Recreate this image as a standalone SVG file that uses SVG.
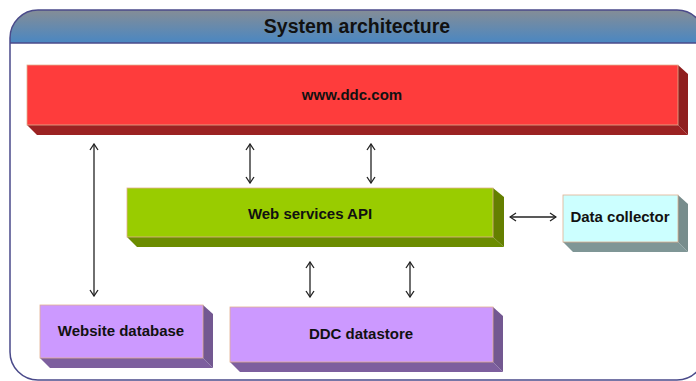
<svg xmlns="http://www.w3.org/2000/svg" width="696" height="381" viewBox="0 0 696 381">
<defs>
<linearGradient id="hdr" x1="0" y1="0" x2="0" y2="1">
<stop offset="0" stop-color="#858d96"/>
<stop offset="1" stop-color="#4a87c2"/>
</linearGradient>
<clipPath id="frameClip"><rect x="10" y="10" width="695" height="371" rx="28" ry="28"/></clipPath>
<marker id="ah" viewBox="0 0 10 10" refX="9" refY="5" markerWidth="10" markerHeight="10" markerUnits="userSpaceOnUse" orient="auto-start-reverse">
<path d="M3,1 L9,5 L3,9" fill="none" stroke="#222" stroke-width="1.3"/>
</marker>
</defs>
<style>
.lbl{font-family:"Liberation Sans",Arial,sans-serif;font-weight:bold;font-size:15px;fill:#111;text-anchor:middle}
.front{stroke:#e0b090;stroke-width:0.8}
.conn{stroke:#222;stroke-width:1.3;fill:none;marker-start:url(#ah);marker-end:url(#ah)}
</style>
<rect width="696" height="381" fill="#ffffff"/>
<g id="frame">
<rect x="10" y="10" width="695" height="371" rx="28" ry="28" fill="#ffffff"/>
<rect x="10" y="10" width="695" height="33" fill="url(#hdr)" clip-path="url(#frameClip)"/>
<line x1="10" y1="43" x2="696" y2="43" stroke="#4a4a8a" stroke-width="1.3"/>
<rect x="10" y="10" width="695" height="370" rx="28" ry="28" fill="none" stroke="#4a4a8a" stroke-width="1.5"/>
<text x="357" y="33" font-family="'Liberation Sans',Arial,sans-serif" font-weight="bold" font-size="19.5" fill="#111" text-anchor="middle">System architecture</text>
</g>
<g id="www">
<polygon points="27,125 678,125 688,135 37,135" fill="#9b2222"/>
<polygon points="678,65 688,74 688,135 678,125" fill="#8f1f1f"/>
<rect class="front" x="27" y="65" width="651" height="60" fill="#fe3c3c"/>
<text class="lbl" x="352" y="100">www.ddc.com</text>
</g>
<g id="api">
<polygon points="127,237 493,237 504,247 137,247" fill="#6b8c00"/>
<polygon points="493,188 504,197 504,247 493,237" fill="#647f00"/>
<rect class="front" x="127" y="188" width="366" height="49" fill="#99cc00"/>
<text class="lbl" x="310" y="219">Web services API</text>
</g>
<g id="collector">
<polygon points="563,242 678,242 688,252 573,252" fill="#7f9696"/>
<polygon points="678,195 688,204 688,252 678,242" fill="#778c8c"/>
<rect class="front" x="563" y="195" width="115" height="47" fill="#ccffff"/>
<text class="lbl" x="620" y="222">Data collector</text>
</g>
<g id="webdb">
<polygon points="40,358 203,358 213,368 50,368" fill="#7d5f9e"/>
<polygon points="203,305 213,314 213,368 203,358" fill="#735891"/>
<rect class="front" x="40" y="305" width="163" height="53" fill="#cc99ff"/>
<text class="lbl" x="121" y="336">Website database</text>
</g>
<g id="datastore">
<polygon points="230,362 493,362 503,372 240,372" fill="#7d5f9e"/>
<polygon points="493,307 503,316 503,372 493,362" fill="#735891"/>
<rect class="front" x="230" y="307" width="263" height="55" fill="#cc99ff"/>
<text class="lbl" x="361" y="339">DDC datastore</text>
</g>
<g id="connectors">
<line class="conn" x1="94" y1="144" x2="94" y2="296"/>
<line class="conn" x1="250" y1="144" x2="250" y2="183"/>
<line class="conn" x1="371" y1="144" x2="371" y2="183"/>
<line class="conn" x1="310" y1="262" x2="310" y2="297"/>
<line class="conn" x1="410" y1="262" x2="410" y2="297"/>
<line class="conn" x1="510" y1="217" x2="556" y2="217"/>
</g>
</svg>
